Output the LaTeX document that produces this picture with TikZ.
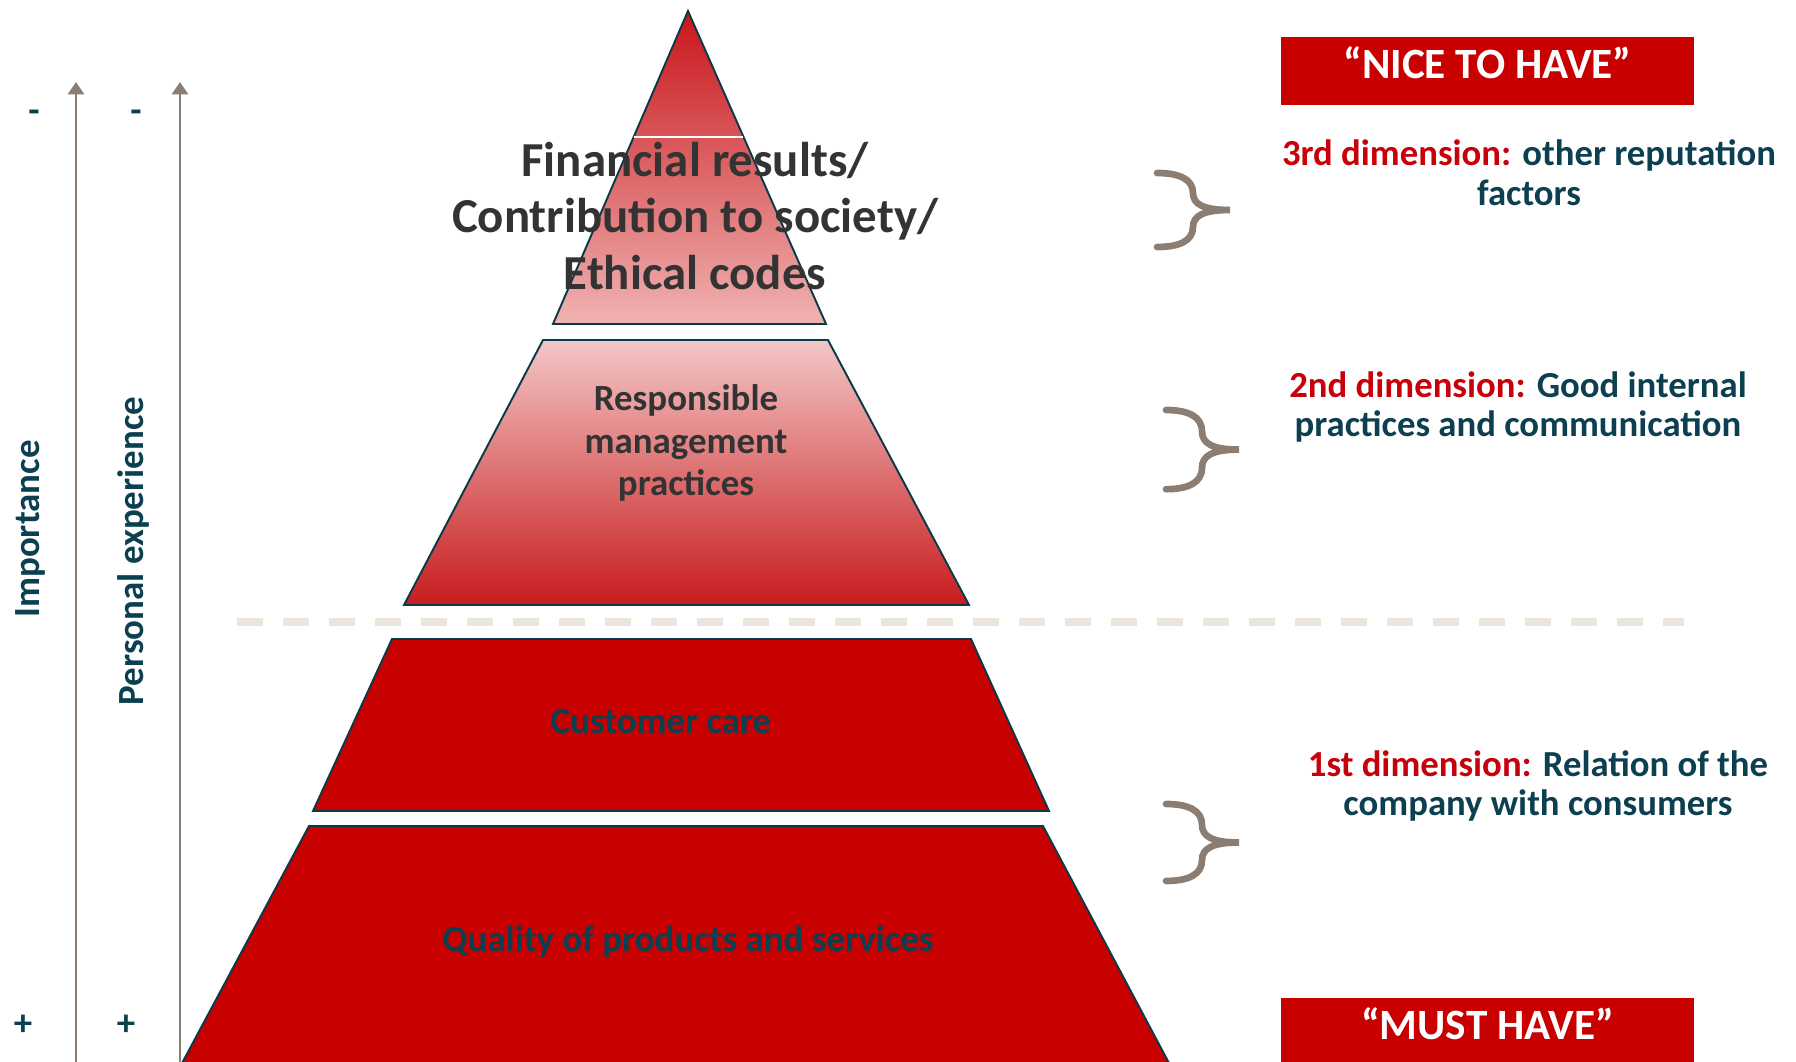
\documentclass[tikz,border=0pt]{standalone}
\usepackage{fontspec}
\setmainfont{Carlito}
\usepackage{xcolor}
\usetikzlibrary{arrows.meta,positioning,calc}
\definecolor{pyrared}{RGB}{200,0,0}
\definecolor{dimred}{RGB}{200,0,10}
\definecolor{deepteal}{RGB}{12,64,80}
\definecolor{edgeteal}{RGB}{10,58,74}
\definecolor{taupe}{RGB}{139,125,114}
\definecolor{dashgrey}{RGB}{234,230,220}
\definecolor{darktext}{RGB}{51,51,51}

\begin{document}
\begin{tikzpicture}[
    x=0.02cm, y=-0.02cm,
    layer/.style={draw=edgeteal, line width=1.1pt},
    redlayer/.style={layer, fill=pyrared},
    laytext/.style={font=\bfseries\fontsize{21}{24.4}\selectfont, align=center, inner sep=0pt},
    axis/.style={taupe, line width=1.7pt, -{Triangle[width=9pt, length=7pt]}},
    axislabel/.style={font=\bfseries\fontsize{21}{23}\selectfont, text=deepteal, rotate=90, inner sep=0pt},
    sign/.style={font=\bfseries\fontsize{21}{23}\selectfont, text=deepteal, inner sep=0pt},
    brace/.style={taupe, line width=3.8pt, line cap=round},
    tagbox/.style={fill=pyrared, text=white, minimum width=8.26cm, minimum height=1.36cm, inner sep=0pt, font=\bfseries\fontsize{24.6}{27}\selectfont},
    dimtext/.style={font=\bfseries\fontsize{20.9}{22.7}\selectfont, text=deepteal, align=center, inner sep=0pt}
]
    \useasboundingbox (0,0) rectangle (1796,1062);

    % Pyramid layers, top to bottom
    \path[layer, top color={rgb,255:red,200;green,22;blue,26}, middle color={rgb,255:red,223;green,128;blue,128}, bottom color={rgb,255:red,240;green,178;blue,178}]
        (688,11) -- (826,324) -- (553,324) -- cycle;
    \draw[white, line width=0.8pt] (634,137) -- (743,137);
    \path[layer, top color={rgb,255:red,243;green,198;blue,198}, middle color={rgb,255:red,228;green,156;blue,156}, bottom color={rgb,255:red,200;green,28;blue,30}]
        (543,340) -- (828,340) -- (969,605) -- (404,605) -- cycle;
    \path[redlayer] (392,639) -- (971,639) -- (1049,811) -- (313,811) -- cycle;
    \path[redlayer] (309,826) -- (1043,826) -- (1178,1080) -- (173,1080) -- cycle;

    % Layer texts
    \node[laytext, font=\bfseries\fontsize{27.8}{32.3}\selectfont, text=darktext] (fin-text) at (695,216) {Financial results/\\Contribution to society/\\Ethical codes};
    \node[laytext, text=darktext] (resp-text) at (686,443) {Responsible\\management\\practices};
    \node[laytext, text=deepteal] (care-text) at (661,722) {Customer care};
    \node[laytext, text=deepteal] (quality-text) at (688,941) {Quality of products and services};

    % Divider between must have and nice to have
    \coordinate (split-l) at (237,622);
    \coordinate (split-r) at (1684,622);
    \draw[dashgrey, line width=4.5pt, dash pattern=on 0.52cm off 0.40cm] (split-l) -- (split-r);

    % Axes on the left
    \coordinate (imp-foot) at (76,1062);
    \coordinate (imp-tip) at (76,82);
    \coordinate (exp-foot) at (180,1062);
    \coordinate (exp-tip) at (180,82);
    \draw[axis] (imp-foot) -- (imp-tip);
    \draw[axis] (exp-foot) -- (exp-tip);
    \node[axislabel] (imp-label) at (30,529) {Importance};
    \node[axislabel] (exp-label) at (133,551) {Personal experience};
    \node[sign] (imp-minus) at (34,116) {-};
    \node[sign] (exp-minus) at (136,116) {-};
    \node[sign] (imp-plus) at (23,1025) {+};
    \node[sign] (exp-plus) at (126,1025) {+};

    % Tags
    \node[tagbox, text height=0.5cm, text depth=0.22cm] (nice-box) at (1487.5,71) {“NICE TO HAVE”};
    \node[tagbox, minimum height=1.28cm, text height=0.55cm, text depth=0.19cm] (must-box) at (1487.5,1030) {“MUST HAVE”};

    % Dimensions
    \node[dimtext] (dim3) at (1529,173) {{\color{dimred}3rd dimension:} other reputation\\factors};
    \node[dimtext] (dim2) at (1518,407) {{\color{dimred}2nd dimension:} Good internal\\practices and communication};
    \node[dimtext] (dim1) at (1538,786) {{\color{dimred}1st dimension:} Relation of the\\company with consumers};

    % Braces
    \foreach \bx/\by/\bs in {1157/173/1.0, 1166/410/1.07, 1166/804/1.04} {
        \draw[brace, shift={(\bx,\by)}, yscale=\bs]
            (0,0) .. controls (22,0) and (36,6) .. (36,20)
            .. controls (36,31) and (46,37) .. (73,37)
            .. controls (46,37) and (36,43) .. (36,54)
            .. controls (36,68) and (22,74) .. (0,74);
    }
\end{tikzpicture}
\end{document}
